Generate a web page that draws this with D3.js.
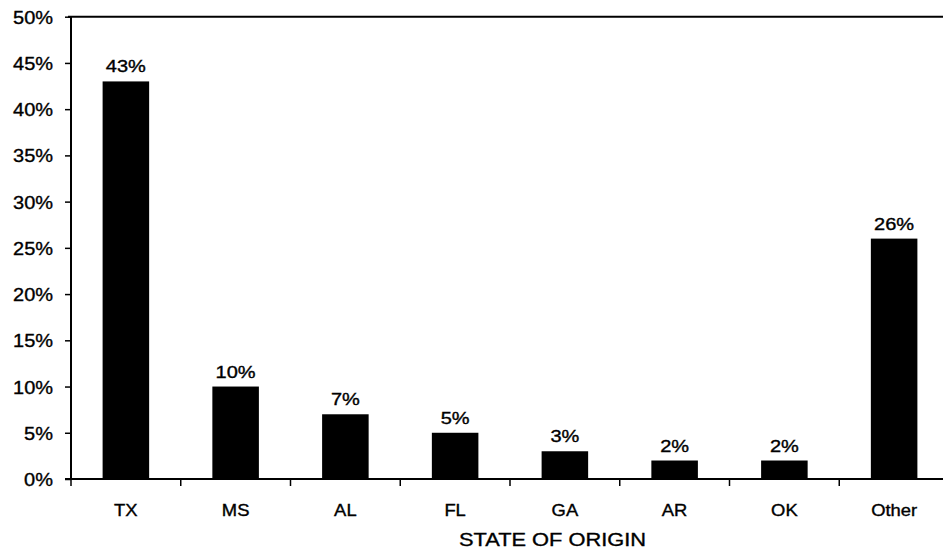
<!DOCTYPE html>
<html>
<head>
<meta charset="utf-8">
<script src="https://cdn.jsdelivr.net/npm/d3@7"></script>
<style>
  html,body{margin:0;padding:0;background:#fff;overflow:hidden;}
  svg text{font-family:"Liberation Sans",Arial,sans-serif;fill:#000;}
</style>
</head>
<body>
<svg id="chart" width="943" height="553"></svg>
<script>
const states = ["TX","MS","AL","FL","GA","AR","OK","Other"];
const shares = [43,10,7,5,3,2,2,26];
const yticks = [0,5,10,15,20,25,30,35,40,45,50];
const xtitle = "STATE OF ORIGIN";

const W = 943, H = 553;
const plot = {left:71, right:949, top:16.7, bottom:479};

const svg = d3.select("#chart");

const x = d3.scaleBand()
  .domain(states)
  .range([plot.left, plot.right])
  .paddingInner(0.576)
  .paddingOuter(0.288);

const y = d3.scaleLinear()
  .domain([0,50])
  .range([plot.bottom, plot.top]);

// stretched text helper (scan is wider than it is tall)
function stext(g, px, py, str, size, sx, anchor) {
  return g.append("text")
    .attr("transform", `translate(${px},${py}) scale(${sx},1)`)
    .attr("text-anchor", anchor || "middle")
    .style("font-size", size + "px")
    .style("stroke", "#000").style("stroke-width", 0.35)
    .text(str);
}

// bars
svg.append("g").selectAll("rect")
  .data(states)
  .join("rect")
  .attr("x", d => x(d))
  .attr("width", x.bandwidth())
  .attr("y", (d,i) => y(shares[i]))
  .attr("height", (d,i) => y(0) - y(shares[i]))
  .attr("fill", "#000");

// value labels
const vl = svg.append("g");
states.forEach((s,i) => {
  stext(vl, x(s) + x.bandwidth()/2, y(shares[i]) - 9, shares[i] + "%", 16, 1.25);
});

// top border
svg.append("line")
  .attr("x1", plot.left - 3).attr("x2", W)
  .attr("y1", plot.top).attr("y2", plot.top)
  .attr("stroke", "#000").attr("stroke-width", 2);

// y axis
const yax = svg.append("g").attr("transform", `translate(${plot.left},0)`)
  .call(d3.axisLeft(y).tickValues(yticks).tickSize(6).tickFormat(""));
yax.select(".domain").remove();
yax.selectAll(".tick line").attr("stroke", "#000").attr("stroke-width", 1.5);
svg.append("line")
  .attr("x1", plot.left).attr("x2", plot.left)
  .attr("y1", plot.top).attr("y2", plot.bottom)
  .attr("stroke", "#000").attr("stroke-width", 2);
const yl = svg.append("g");
yticks.forEach(t => {
  stext(yl, 53, y(t) + 7, t + "%", 18.5, 1.08, "end");
});

// x axis
const bounds = states.map(s => x(s) - (x.step() - x.bandwidth())/2);
const xax = svg.append("g").attr("transform", `translate(0,${plot.bottom})`);
xax.selectAll("line.xt")
  .data(bounds)
  .join("line")
  .attr("class","xt")
  .attr("x1", d => d).attr("x2", d => d)
  .attr("y1", 0).attr("y2", 7)
  .attr("stroke", "#000").attr("stroke-width", 1.5);
svg.append("line")
  .attr("x1", plot.left - 6).attr("x2", W)
  .attr("y1", plot.bottom).attr("y2", plot.bottom)
  .attr("stroke", "#000").attr("stroke-width", 2);
const xl = svg.append("g");
states.forEach(s => {
  stext(xl, x(s) + x.bandwidth()/2, plot.bottom + 37, s, 16, 1.15);
});

stext(svg, 552.5, 545.7, xtitle, 18.5, 1.18);
</script>
</body>
</html>
